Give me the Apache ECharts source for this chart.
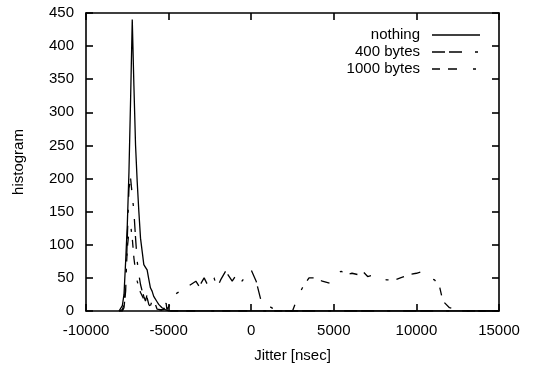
<!DOCTYPE html>
<html>
<head>
<meta charset="utf-8">
<script src="https://cdn.jsdelivr.net/npm/echarts@6/dist/echarts.min.js"></script>
<style>
  html, body { margin: 0; padding: 0; background: #fff; }
  #chart { width: 533px; height: 368px; }
</style>
</head>
<body>
<div id="chart"></div>
<script>
var xTicks = [-10000, -5000, 0, 5000, 10000, 15000];
var yTicks = [0, 50, 100, 150, 200, 250, 300, 350, 400, 450];
var names = ['nothing', '400 bytes', '1000 bytes'];

// nothing: single sharp peak
var nothingX = [-8000, -7900, -7800, -7700, -7600, -7500, -7400, -7300, -7200, -7100, -7000, -6900, -6800,
    -6700, -6600, -6500, -6400, -6300, -6200, -6100, -6000, -5900, -5800, -5700, -5600, -5500, -5400,
    -5300, -5200, -5100, -5000, -1400, -1350, -1300, 15000];
var nothingY = [0, 1, 8, 25, 75, 130, 210, 320, 440, 340, 250, 195, 150,
    110, 90, 70, 66, 62, 48, 35, 30, 22, 20, 14, 10, 8, 5,
    4, 2, 1, 0, 0, 3, 0, 0];

// 400 bytes: peak + plateau on the left of 0
var b400X = [-8000, -7800, -7700, -7600, -7500, -7400, -7300, -7200, -7100, -7000, -6900, -6800, -6700,
    -6600, -6500, -6400, -6300, -6200, -6100, -6000, -5900, -5800, -5700, -5600, -5500, -5400, -5300,
    -5200, -5150, -5100, -5000, -4800, -4500, -3950, -3650, -3350, -3150, -2850, -2650, -2450, -2250,
    -2050, -1850, -1550, -1150, -850, -550, -300, 0, 300, 600, 900, 1300, 1600, 15000];
var b400Y = [0, 0, 5, 30, 110, 185, 200, 175, 150, 110, 75, 55, 40,
    30, 22, 15, 25, 12, 8, 15, 5, 10, 3, 5, 2, 4, 2,
    3, 12, 2, 5, 15, 27, 35, 40, 45, 37, 50, 40, 52, 50,
    35, 47, 60, 45, 57, 45, 55, 62, 45, 15, 10, 4, 0, 0];

// 1000 bytes: smaller peak + plateau on the right of 0
var b1000X = [-8000, -7800, -7700, -7600, -7500, -7400, -7300, -7200, -7100, -7000, -6900, -6800, -6700,
    -6600, -6500, -6400, -6300, -6200, -6100, -6000, -5900, -5800, -5700, -5600, -5500, -5400, -5200,
    2300, 2400, 2500, 2800, 3100, 3500, 3950, 4300, 4750, 5050, 5450, 5750, 6100, 6450, 6750, 7050,
    7450, 7750, 8200, 8700, 9150, 9550, 10000, 10400, 10800, 11100, 11400, 11600, 12000, 12450, 12600, 15000];
var b1000Y = [0, 2, 10, 40, 95, 120, 130, 110, 80, 60, 45, 35, 28,
    25, 18, 14, 20, 10, 6, 12, 8, 4, 6, 2, 3, 1, 0,
    0, 2, 0, 20, 35, 50, 50, 45, 42, 55, 60, 55, 57, 55, 60, 52,
    55, 50, 47, 47, 51, 55, 57, 60, 50, 47, 37, 15, 5, 2, 0, 0];

function pairs(xs, ys) {
    return xs.map(function (x, i) { return [x, ys[i]]; });
}

var font = 'Liberation Sans';
var dashes = [null, [13, 4, 13, 13, 3, 13], [8, 8, 9, 16, 3, 8]];
var seriesData = [pairs(nothingX, nothingY), pairs(b400X, b400Y), pairs(b1000X, b1000Y)];
var keyRows = [35, 52, 69];

function xAxis(pos, labels) {
    return {
        type: 'value', position: pos,
        min: xTicks[0], max: xTicks[xTicks.length - 1], interval: 5000,
        name: labels ? 'Jitter [nsec]' : '', nameLocation: 'middle', nameGap: 37,
        nameTextStyle: { color: '#000', fontFamily: font, fontSize: 15 },
        axisLine: { show: true, onZero: false, lineStyle: { color: '#000', width: 1.6 } },
        axisTick: { show: true, inside: true, length: 7, lineStyle: { color: '#000', width: 1.6 } },
        axisLabel: {
            show: labels, color: '#000', fontFamily: font, fontSize: 15, margin: 12,
            formatter: function (v) { return String(v); }
        },
        splitLine: { show: false }
    };
}

function yAxis(pos, labels) {
    return {
        type: 'value', position: pos,
        min: yTicks[0], max: yTicks[yTicks.length - 1], interval: 50,
        name: labels ? 'histogram' : '', nameLocation: 'middle', nameGap: 60, nameRotate: 90,
        nameTextStyle: { color: '#000', fontFamily: font, fontSize: 15 },
        axisLine: { show: true, onZero: false, lineStyle: { color: '#000', width: 1.6 } },
        axisTick: { show: true, inside: true, length: 7, lineStyle: { color: '#000', width: 1.6 } },
        axisLabel: { show: labels, color: '#000', fontFamily: font, fontSize: 15, margin: 12 },
        splitLine: { show: false }
    };
}

// key drawn like gnuplot: right-aligned text, line sample to its right
var key = [];
names.forEach(function (n, i) {
    key.push({
        type: 'text', x: 420, y: keyRows[i],
        style: { text: n, fill: '#000', font: '15px "' + font + '"', textAlign: 'right', textVerticalAlign: 'middle' }
    });
    key.push({
        type: 'line', shape: { x1: 432, y1: keyRows[i], x2: 480, y2: keyRows[i] },
        style: { stroke: '#000', lineWidth: 1.3, lineDash: dashes[i] }
    });
});

var chart = echarts.init(document.getElementById('chart'));
chart.setOption({
    animation: false,
    backgroundColor: '#fff',
    grid: { left: 86, right: 34, top: 13, bottom: 55, containLabel: false },
    xAxis: [xAxis('bottom', true), xAxis('top', false)],
    yAxis: [yAxis('left', true), yAxis('right', false)],
    graphic: key,
    series: names.map(function (n, i) {
        return {
            name: n, type: 'line', data: seriesData[i],
            xAxisIndex: 0, yAxisIndex: 0,
            showSymbol: false, symbol: 'none',
            color: '#000',
            lineStyle: { color: '#000', width: 1.3, type: dashes[i] || 'solid' }
        };
    })
});
</script>
</body>
</html>
